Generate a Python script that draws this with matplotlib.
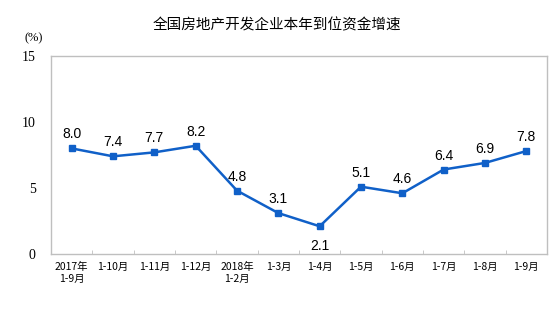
import matplotlib
matplotlib.use("Agg")
import matplotlib.pyplot as plt

plt.rcParams['font.family'] = ['Noto Sans CJK SC', 'DejaVu Sans']

categories = ["2017年\n1-9月", "1-10月", "1-11月", "1-12月", "2018年\n1-2月", "1-3月",
              "1-4月", "1-5月", "1-6月", "1-7月", "1-8月", "1-9月"]
values = [8.0, 7.4, 7.7, 8.2, 4.8, 3.1, 2.1, 5.1, 4.6, 6.4, 6.9, 7.8]
yticks = [0, 5, 10, 15]
title = "全国房地产开发企业本年到位资金增速"

line_color = "#1060C8"
frame_color = "#BFBFBF"

fig = plt.figure(figsize=(5.54, 3.29), dpi=100)
ax = fig.add_axes([51 / 554, 1 - 254 / 329, (547 - 51) / 554, (254 - 56) / 329])

x = list(range(len(values)))
ax.plot(x, values, color=line_color, lw=1.8, marker='s', ms=5, zorder=3)

for xi, v in zip(x, values):
    below = v == min(values)
    ax.annotate(f"{v:.1f}", (xi, v), xytext=(0, -9 if below else 5),
                textcoords="offset points", ha="center",
                va="top" if below else "bottom",
                fontsize=10, family=["Liberation Sans"], color="black")

ax.set_xlim(-0.5, len(values) - 0.5)
ax.set_ylim(0, 15)
ax.set_yticks(yticks)
ax.set_yticklabels([str(t) for t in yticks], family=["Liberation Serif"], fontsize=10)
ax.tick_params(axis='y', length=0, pad=11)

# category labels centred under each point, tick marks at category boundaries
ax.set_xticks(x)
ax.set_xticklabels(categories, fontsize=7.5, linespacing=1.25)
ax.tick_params(axis='x', which='major', length=0, pad=6)
ax.set_xticks([i + 0.5 for i in x[:-1]], minor=True)
ax.tick_params(axis='x', which='minor', direction='in', length=3, color=frame_color)

for s in ax.spines.values():
    s.set_color(frame_color)
    s.set_linewidth(1.0)

fig.text(277 / 554, 1 - 25 / 329, title, ha="center", va="center", fontsize=10.5)
fig.text(34 / 554, 1 - 38 / 329, "(%)", ha="center", va="center", fontsize=9,
         family=["Liberation Serif"])

fig.savefig("out.png", dpi=100)
